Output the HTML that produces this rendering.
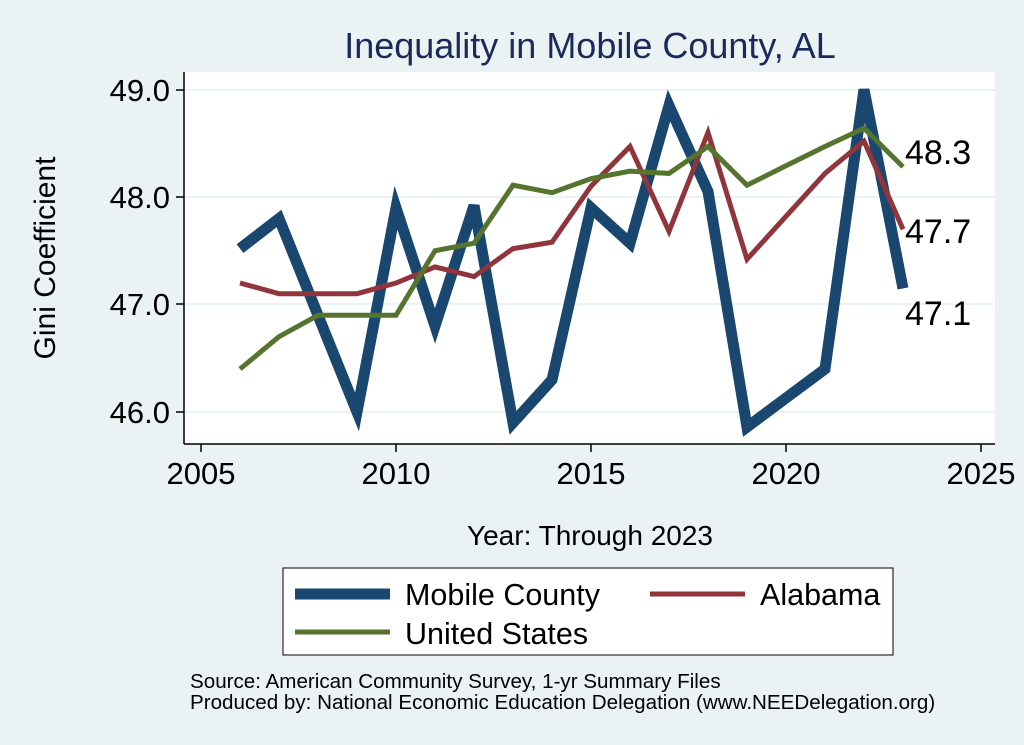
<!DOCTYPE html>
<html><head><meta charset="utf-8"><style>
body{margin:0;background:#eaf2f3;}
svg{display:block;font-family:"Liberation Sans",Arial,sans-serif;}
</style></head><body>
<svg width="1024" height="745" viewBox="0 0 1024 745" id="s">
<rect width="1024" height="745" fill="#eaf2f3"/>
<rect x="184" y="72" width="811" height="372" fill="#fff"/>
<g stroke="#eaf2f3" stroke-width="2">
<line x1="185" x2="995" y1="90" y2="90"/><line x1="185" x2="995" y1="197" y2="197"/>
<line x1="185" x2="995" y1="304" y2="304"/><line x1="185" x2="995" y1="412" y2="412"/>
</g>
<g stroke="#000" stroke-width="1.5">
<line x1="184" y1="72" x2="184" y2="444"/><line x1="184" y1="444" x2="995" y2="444"/>
<line x1="176" x2="184" y1="90" y2="90"/><line x1="176" x2="184" y1="197" y2="197"/>
<line x1="176" x2="184" y1="304" y2="304"/><line x1="176" x2="184" y1="412" y2="412"/>
<line y1="444" y2="452" x1="201" x2="201"/><line y1="444" y2="452" x1="396" x2="396"/>
<line y1="444" y2="452" x1="591" x2="591"/><line y1="444" y2="452" x1="786" x2="786"/>
<line y1="444" y2="452" x1="981" x2="981"/>
</g>
<g font-size="31" text-anchor="end" fill="#000">
<text x="170" y="101">49.0</text><text x="170" y="208">48.0</text><text x="170" y="315">47.0</text><text x="170" y="423">46.0</text>
</g>
<g font-size="31" text-anchor="middle" fill="#000">
<text x="201" y="484">2005</text><text x="396" y="484">2010</text><text x="591" y="484">2015</text><text x="786" y="484">2020</text><text x="981" y="484">2025</text>
</g>
<text x="590" y="58" font-size="36" text-anchor="middle" fill="#1a2a5a">Inequality in Mobile County, AL</text>
<text x="590" y="545" font-size="28" text-anchor="middle">Year: Through 2023</text>
<text transform="translate(55,258) rotate(-90)" font-size="30" text-anchor="middle">Gini Coefficient</text>
<g id="lines" fill="none" stroke-linejoin="miter"></g>
<g font-size="34"><text x="905" y="164">48.3</text><text x="905" y="243">47.7</text><text x="905" y="325">47.1</text></g>
<rect x="283" y="568" width="610" height="87" fill="#fff" stroke="#000" stroke-width="1"/>
<line x1="295" x2="390" y1="594" y2="594" stroke="#1a476f" stroke-width="11"/>
<text x="405" y="605" font-size="30.5">Mobile County</text>
<line x1="650" x2="745" y1="594" y2="594" stroke="#90353b" stroke-width="5"/>
<text x="760" y="605" font-size="30.5">Alabama</text>
<line x1="295" x2="390" y1="632" y2="632" stroke="#55752f" stroke-width="5"/>
<text x="405" y="644" font-size="30.5">United States</text>
<text x="190" y="688" font-size="20.6">Source: American Community Survey, 1-yr Summary Files</text>
<text x="190" y="709" font-size="20.6">Produced by: National Economic Education Delegation (www.NEEDelegation.org)</text>
</svg>
<script>
var X=y=>201+(y-2005)*39, Y=v=>412-(v-46)*107.5;
var m=[47.52,47.8,46.9,46.0,47.9,46.8,47.92,45.9,46.3,47.9,47.57,48.85,48.05,45.86,46.13,46.4,49.0,47.15];
var a=[47.2,47.1,47.1,47.1,47.2,47.35,47.26,47.52,47.58,48.1,48.47,47.68,48.6,47.42,47.82,48.22,48.52,47.7];
var u=[46.4,46.7,46.9,46.9,46.9,47.5,47.57,48.11,48.04,48.17,48.24,48.22,48.47,48.11,48.29,48.47,48.64,48.28];
function pl(d,c,w){var p=d.map((v,i)=>X(2006+i).toFixed(1)+","+Y(v).toFixed(1)).join(" ");
var e=document.createElementNS("http://www.w3.org/2000/svg","polyline");e.setAttribute("points",p);e.setAttribute("stroke",c);e.setAttribute("stroke-width",w);document.getElementById("lines").appendChild(e);}
pl(m,"#1a476f",11);pl(a,"#90353b",5);pl(u,"#55752f",5);
</script>
</body></html>
